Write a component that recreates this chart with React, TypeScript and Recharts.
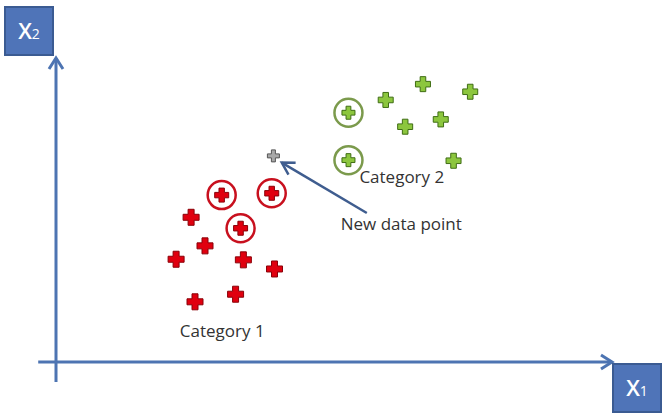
import { ScatterChart, Scatter, XAxis, YAxis, ReferenceLine, ReferenceDot } from "recharts";

// classification scatter: two categories + one unlabelled point
const redPlain = [
  { x: 2.43, y: 4.76 },
  { x: 2.68, y: 3.82 },
  { x: 2.16, y: 3.38 },
  { x: 3.37, y: 3.36 },
  { x: 3.93, y: 3.06 },
  { x: 2.5, y: 1.98 },
  { x: 3.23, y: 2.23 },
];
const redCircled = [
  { x: 2.98, y: 5.49 },
  { x: 3.88, y: 5.55 },
  { x: 3.32, y: 4.4 },
];
const greenPlain = [
  { x: 5.93, y: 8.62 },
  { x: 6.6, y: 9.14 },
  { x: 7.45, y: 8.89 },
  { x: 6.28, y: 7.74 },
  { x: 6.92, y: 7.98 },
  { x: 7.15, y: 6.62 },
];
const greenCircled = [
  { x: 5.26, y: 8.2 },
  { x: 5.26, y: 6.64 },
];
const newPoint = [{ x: 3.91, y: 6.78 }];

const labels = [
  { text: "Category 1", x: 2.99, y: 1.02 },
  { text: "Category 2", x: 6.22, y: 6.09 },
  { text: "New data point", x: 6.21, y: 4.54 },
];
const pointerFrom = { x: 5.59, y: 4.9 };
const pointerTo = { x: 4.06, y: 6.56 };

const AXIS = "#4d74b2";
const FONT = "'Open Sans', sans-serif";

const plusPath = (cx: number, cy: number, s: number, a: number) =>
  `M${cx - a},${cy - s}H${cx + a}V${cy - a}H${cx + s}V${cy + a}H${cx + a}V${cy + s}H${cx - a}V${cy + a}H${cx - s}V${cy - a}H${cx - a}Z`;

const makePlus = (fill: string, stroke: string, s: number, a: number, ring?: string) => (p: any) => (
  <g>
    {ring && <circle cx={p.cx} cy={p.cy} r={14} fill="#fff" stroke={ring} strokeWidth={2.5} />}
    <path d={plusPath(p.cx, p.cy, s, a)} fill={fill} stroke={stroke} strokeWidth={1} />
  </g>
);

const chevron = (x1: number, y1: number, x2: number, y2: number, L: number, W: number) => {
  const len = Math.hypot(x2 - x1, y2 - y1) || 1;
  const dx = (x2 - x1) / len;
  const dy = (y2 - y1) / len;
  return `M${x2 - L * dx - W * dy},${y2 - L * dy + W * dx}L${x2},${y2}L${x2 - L * dx + W * dy},${y2 - L * dy - W * dx}`;
};

// axis with arrow and a boxed name at the tip
const axisShape = (name: string, sub: string, bx: number, by: number) => (p: any) => (
  <g>
    <line x1={p.x1} y1={p.y1} x2={p.x2} y2={p.y2} stroke={AXIS} strokeWidth={3} />
    <path d={chevron(p.x1, p.y1, p.x2, p.y2, 11, 7)} fill="none" stroke={AXIS} strokeWidth={3} />
    <rect x={p.x2 + bx} y={p.y2 + by} width={48} height={48} fill="#4f74b8" stroke="#3b5b92" strokeWidth={2} />
    <text
      x={p.x2 + bx + 24}
      y={p.y2 + by + 32}
      textAnchor="middle"
      fill="#fff"
      fontFamily={FONT}
      fontWeight={600}
      fontSize={22}
    >
      {name}
      <tspan fontSize={14} fontWeight={400}>{sub}</tspan>
    </text>
  </g>
);

const pointerShape = (p: any) => (
  <g>
    <line x1={p.x1} y1={p.y1} x2={p.x2} y2={p.y2} stroke="#3f5d8f" strokeWidth={2.5} />
    <path d={chevron(p.x1, p.y1, p.x2, p.y2, 12, 7)} fill="none" stroke="#3f5d8f" strokeWidth={2.5} />
  </g>
);

export default function App() {
  return (
    <div style={{ position: "absolute", left: 0, top: 0, background: "#fff" }}>
      <ScatterChart width={669} height={418} margin={{ top: 58, right: 57, bottom: 56, left: 56 }}>
        <XAxis type="number" dataKey="x" domain={[0, 10]} hide />
        <YAxis type="number" dataKey="y" domain={[0, 10]} hide />
        <ReferenceLine
          segment={[{ x: -0.32, y: 0 }, { x: 10, y: 0 }]}
          ifOverflow="visible"
          shape={axisShape("X", "1", 1, 2)}
        />
        <ReferenceLine
          segment={[{ x: 0, y: -0.66 }, { x: 0, y: 10 }]}
          ifOverflow="visible"
          shape={axisShape("X", "2", -51, -51)}
        />
        <ReferenceLine segment={[pointerFrom, pointerTo]} ifOverflow="visible" shape={pointerShape} />
        <Scatter data={redPlain} isAnimationActive={false} shape={makePlus("#e0000f", "#8a0008", 8, 3)} />
        <Scatter data={redCircled} isAnimationActive={false} shape={makePlus("#e0000f", "#8a0008", 7, 2.7, "#c8101e")} />
        <Scatter data={greenPlain} isAnimationActive={false} shape={makePlus("#8cc63e", "#3f6d14", 7.5, 2.8)} />
        <Scatter data={greenCircled} isAnimationActive={false} shape={makePlus("#8cc63e", "#3f6d14", 6.5, 2.4, "#7b9a4c")} />
        <Scatter data={newPoint} isAnimationActive={false} shape={makePlus("#a8a8a8", "#555", 6, 2)} />
        {labels.map((l) => (
          <ReferenceDot
            key={l.text}
            x={l.x}
            y={l.y}
            r={0}
            fill="none"
            stroke="none"
            label={{ value: l.text, position: "center", fill: "#333", fontSize: 17, fontFamily: FONT }}
          />
        ))}
      </ScatterChart>
    </div>
  );
}
